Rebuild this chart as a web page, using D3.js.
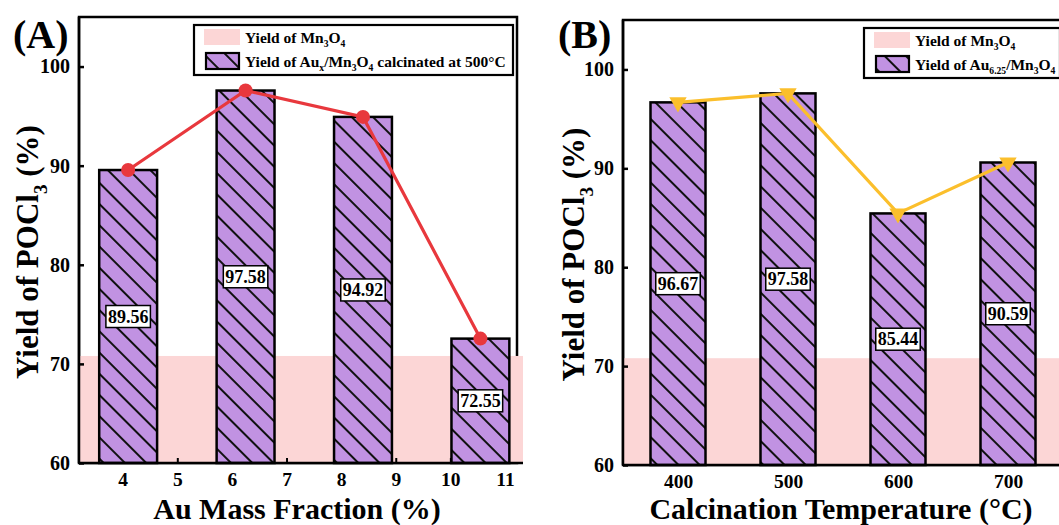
<!DOCTYPE html>
<html><head><meta charset="utf-8">
<script src="https://cdn.jsdelivr.net/npm/d3@7"></script>
<style>
html,body{margin:0;padding:0;background:#fff;}
svg text{font-family:"Liberation Serif","Times New Roman","DejaVu Serif",serif !important;font-weight:bold;fill:#000;}
</style></head>
<body>
<svg id="chart" width="1059" height="525"></svg>
<script>
// ---------- data ----------
const auMassFraction = [4.1, 6.25, 8.4, 10.55];
const auYield = [89.56, 97.58, 94.92, 72.55];
const calcTemps = [400, 500, 600, 700];
const tempYield = [96.67, 97.58, 85.44, 90.59];
const mn3o4Yield = 70.8;
const xTicksA = [4, 5, 6, 7, 8, 9, 10, 11];
const xTicksB = [400, 500, 600, 700];
const yTicks = [60, 70, 80, 90, 100];

const svg = d3.select("#chart");
const defs = svg.append("defs");
const pat = defs.append("pattern").attr("id", "hatch")
  .attr("patternUnits", "userSpaceOnUse").attr("width", 15).attr("height", 15)
  .attr("patternTransform", "rotate(-45)");
pat.append("rect").attr("width", 15).attr("height", 15).attr("fill", "#c192e2");
pat.append("line").attr("x1", 1).attr("y1", 0).attr("x2", 1).attr("y2", 15)
  .attr("stroke", "#111").attr("stroke-width", 2);

const PINK = "#fcd6d6";

function rich(sel, segs, size) {
  let low = false;
  segs.forEach(s => {
    const ts = sel.append("tspan").text(s.t);
    if (s.sub) {
      ts.attr("font-size", size * 0.62);
      if (!low) ts.attr("dy", size * 0.28);
      low = true;
    } else if (low) {
      ts.attr("dy", -size * 0.28);
      low = false;
    }
  });
}

function panel(cfg) {
  const g = svg.append("g");
  const x = d3.scaleLinear().domain(cfg.xDomain).range([cfg.left, cfg.right]);
  const y = d3.scaleLinear().domain([60, 105]).range([cfg.bottom, cfg.top]);

  g.append("rect").attr("x", cfg.left).attr("y", cfg.top)
    .attr("width", cfg.right - cfg.left).attr("height", cfg.bottom - cfg.top)
    .attr("fill", "none").attr("stroke", "#000").attr("stroke-width", 2.5);

  g.append("rect").attr("x", cfg.left + 1).attr("y", y(mn3o4Yield))
    .attr("width", cfg.right - cfg.left + 5).attr("height", y(60) - y(mn3o4Yield))
    .attr("fill", PINK);

  const yAxis = d3.axisLeft(y).tickValues(yTicks).tickSize(-5).tickPadding(9).tickFormat(d3.format("d"));
  const ya = g.append("g").attr("transform", `translate(${cfg.left},0)`).call(yAxis);
  ya.attr("font-family", null);
  ya.select(".domain").remove();
  ya.selectAll("line").attr("stroke", "#000").attr("stroke-width", 2.5);
  ya.selectAll("text").attr("font-size", 20);

  const xAxis = d3.axisBottom(x).tickValues(cfg.xTicks).tickSize(-5).tickPadding(9).tickFormat(d3.format("d"));
  const xa = g.append("g").attr("transform", `translate(0,${cfg.bottom})`).call(xAxis);
  xa.attr("font-family", null);
  xa.select(".domain").remove();
  xa.selectAll("line").attr("stroke", "#000").attr("stroke-width", 2);
  xa.selectAll("text").attr("font-size", 19.5);

  const bw = x(cfg.xDomain[0] + cfg.barW) - x(cfg.xDomain[0]);
  g.selectAll(".bar").data(cfg.xs).enter().append("rect")
    .attr("x", (d) => x(d) - bw / 2).attr("y", (d, i) => y(cfg.ys[i]))
    .attr("width", bw).attr("height", (d, i) => y(60) - y(cfg.ys[i]))
    .attr("fill", "url(#hatch)").attr("stroke", "#000").attr("stroke-width", 2.5);

  g.append("line").attr("x1", cfg.left).attr("x2", cfg.right + 6).attr("y1", cfg.bottom).attr("y2", cfg.bottom)
    .attr("stroke", "#000").attr("stroke-width", 2.5);
  g.append("line").attr("x1", cfg.left).attr("x2", cfg.left).attr("y1", cfg.top).attr("y2", cfg.bottom)
    .attr("stroke", "#000").attr("stroke-width", 2.5);

  cfg.xs.forEach((d, i) => {
    const cy = (y(cfg.ys[i]) + y(60)) / 2;
    const lg = g.append("g");
    const t = lg.append("text").attr("x", x(d)).attr("y", cy + 6).attr("text-anchor", "middle")
      .attr("font-size", 18).text(cfg.ys[i].toFixed(2));
    const bb = t.node().getBBox();
    lg.insert("rect", "text").attr("x", bb.x - 2).attr("y", cy - 11).attr("width", bb.width + 4).attr("height", 22)
      .attr("fill", "#fff").attr("stroke", "#000").attr("stroke-width", 1.5);
  });

  const pts = cfg.xs.map((d, i) => [x(d), y(cfg.ys[i])]);
  g.append("path").attr("d", d3.line()(pts)).attr("fill", "none")
    .attr("stroke", cfg.lineColor).attr("stroke-width", 3.2);
  if (cfg.marker === "circle") {
    g.selectAll(".pt").data(pts).enter().append("circle")
      .attr("cx", p => p[0]).attr("cy", p => p[1]).attr("r", 7).attr("fill", cfg.lineColor);
  } else {
    g.selectAll(".pt").data(pts).enter().append("path")
      .attr("d", d3.symbol(d3.symbolTriangle, 130))
      .attr("transform", p => `translate(${p[0]},${p[1]}) rotate(180)`).attr("fill", cfg.lineColor);
  }

  const L = cfg.legend;
  g.append("rect").attr("x", L.x).attr("y", L.y).attr("width", L.w).attr("height", 50)
    .attr("fill", "#fff").attr("stroke", "#000").attr("stroke-width", 2.2);
  g.append("rect").attr("x", L.x + 10).attr("y", L.y + 4).attr("width", 36).attr("height", 16).attr("fill", PINK);
  g.append("rect").attr("x", L.x + 12).attr("y", L.y + 28).attr("width", 33).attr("height", 16)
    .attr("fill", "url(#hatch)").attr("stroke", "#000").attr("stroke-width", 2.2);
  rich(g.append("text").attr("x", L.x + 51).attr("y", L.y + 18).attr("font-size", 15.5),
    [{t: "Yield of Mn"}, {t: "3", sub: true}, {t: "O"}, {t: "4", sub: true}], 15.5);
  rich(g.append("text").attr("x", L.x + 51).attr("y", L.y + 42).attr("font-size", 15.5), L.second, 15.5);

  g.append("text").attr("x", cfg.xTitleX).attr("y", 519).attr("text-anchor", "middle").attr("font-size", 30).text(cfg.xTitle);
  const yt = g.append("text").attr("transform", `translate(${cfg.yTitleX},${(cfg.top + cfg.bottom) / 2 + 12}) rotate(-90)`)
    .attr("text-anchor", "middle").attr("font-size", 31);
  rich(yt, [{t: "Yield of POCl"}, {t: "3", sub: true}, {t: " (%)"}], 31);
  g.append("text").attr("x", cfg.tagX).attr("y", 48).attr("font-size", 40).text(cfg.tag);
}

panel({
  left: 79, right: 517, top: 17, bottom: 463,
  xDomain: [3.2, 11.22], xTicks: xTicksA, xs: auMassFraction, ys: auYield, barW: 1.06,
  lineColor: "#e8383d", marker: "circle",
  legend: {x: 194, y: 25, w: 319, second: [{t: "Yield of Au"}, {t: "x", sub: true}, {t: "/Mn"}, {t: "3", sub: true}, {t: "O"}, {t: "4", sub: true}, {t: " calcinated at 500°C"}]},
  xTitle: "Au Mass Fraction (%)", xTitleX: 297, yTitleX: 38, tag: "(A)", tagX: 13
});
panel({
  left: 623, right: 1063, top: 20, bottom: 465,
  xDomain: [350, 750], xTicks: xTicksB, xs: calcTemps, ys: tempYield, barW: 50,
  lineColor: "#fbbf2c", marker: "triangle",
  legend: {x: 864, y: 28, w: 196, second: [{t: "Yield of Au"}, {t: "6.25", sub: true}, {t: "/Mn"}, {t: "3", sub: true}, {t: "O"}, {t: "4", sub: true}]},
  xTitle: "Calcination Temperature (°C)", xTitleX: 841, yTitleX: 584, tag: "(B)", tagX: 558
});
</script>
</body></html>
